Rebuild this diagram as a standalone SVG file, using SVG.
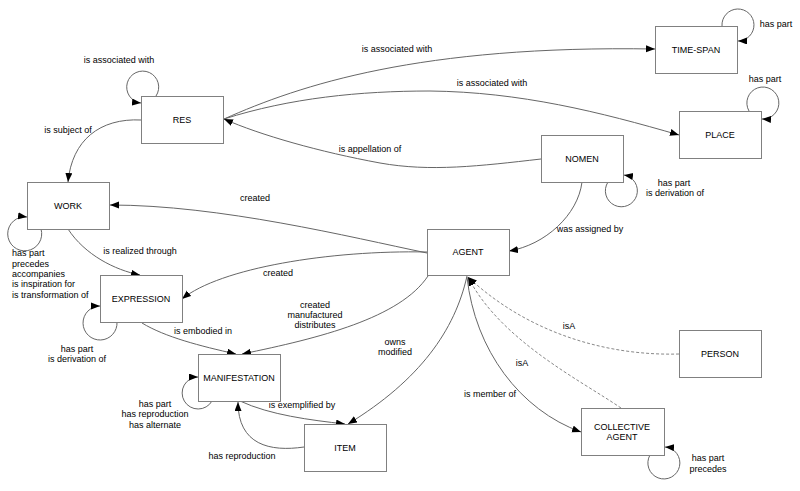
<svg xmlns="http://www.w3.org/2000/svg" width="800" height="491" viewBox="0 0 800 491">
<style>
.n rect{fill:#fff;stroke:#808080;stroke-width:1}
text{font-family:"Liberation Sans",Arial,sans-serif;font-size:9px;fill:#000}
.n text,.c text.m{text-anchor:middle}
.c path{fill:none;stroke:#666;stroke-width:1}
.c path.d{stroke:#888;stroke-dasharray:3,2}
</style>
<defs>
<marker id="a" markerUnits="userSpaceOnUse" markerWidth="10" markerHeight="8" refX="9" refY="3.5" orient="auto"><path d="M0,0 L9,3.5 L0,7 z" fill="#000"/></marker>
</defs>
<rect width="800" height="491" fill="#fff"/>
<g class="c" id="connectors">
<path d="M156,96 A16,16 0 1 0 141,103" marker-end="url(#a)"/>
<path d="M141,120 C100,118 72,140 68,182" marker-end="url(#a)"/>
<path d="M224,119 C300,85 420,45 655,49" marker-end="url(#a)"/>
<path d="M224,119 C290,98 360,91 430,91 C520,92 600,112 679,135" marker-end="url(#a)"/>
<path d="M541,159 C480,166 430,172 380,163 C320,152 260,135 224,119" marker-end="url(#a)"/>
<path d="M722,26 A16,16 0 1 1 738,41" marker-end="url(#a)"/>
<path d="M749,111 A16,16 0 1 1 762,119" marker-end="url(#a)"/>
<path d="M608,182 A16,16 0 1 0 624,175" marker-end="url(#a)"/>
<path d="M582,182 C578,215 545,245 509,251" marker-end="url(#a)"/>
<path d="M427,253 C350,237 220,205 110,205" marker-end="url(#a)"/>
<path d="M427,252 C330,250 220,268 182,299" marker-end="url(#a)"/>
<path d="M428,276 C400,318 320,338 242,354" marker-end="url(#a)"/>
<path d="M142,323 C165,337 200,346 236,354" marker-end="url(#a)"/>
<path d="M68,229 C85,255 115,270 140,275" marker-end="url(#a)"/>
<path d="M41,229 A17,17 0 1 1 27,217" marker-end="url(#a)"/>
<path d="M117,322 A17,17 0 1 1 100,306" marker-end="url(#a)"/>
<path d="M212,401 A16,16 0 1 1 198,377" marker-end="url(#a)"/>
<path d="M240,401 C270,415 310,420 345,424" marker-end="url(#a)"/>
<path d="M304,447 C270,452 238,445 238,402" marker-end="url(#a)"/>
<path d="M467,276 C455,330 420,380 348,424" marker-end="url(#a)"/>
<path d="M467,277 C475,350 520,410 581,432" marker-end="url(#a)"/>
<path class="d" d="M679,354 C610,356 530,335 468,277" marker-end="url(#a)"/>
<path class="d" d="M621,408 C580,380 500,340 468,277" marker-end="url(#a)"/>
<path d="M650,455 A16,16 0 1 0 665,447" marker-end="url(#a)"/>
<text class="m" x="119" y="63">is associated with</text>
<text class="m" x="68" y="133">is subject of</text>
<text class="m" x="397" y="52">is associated with</text>
<text class="m" x="492" y="86">is associated with</text>
<text class="m" x="370" y="152">is appellation of</text>
<text class="m" x="776" y="27">has part</text>
<text class="m" x="765" y="82">has part</text>
<text class="m" x="674" y="186">has part</text>
<text class="m" x="675" y="196">is derivation of</text>
<text class="m" x="590" y="232">was assigned by</text>
<text class="m" x="255" y="201">created</text>
<text class="m" x="278" y="276">created</text>
<text class="m" x="315" y="308">created</text>
<text class="m" x="315" y="318">manufactured</text>
<text class="m" x="315" y="328">distributes</text>
<text class="m" x="140" y="254">is realized through</text>
<text x="12" y="256">has part</text>
<text x="12" y="267">precedes</text>
<text x="12" y="277">accompanies</text>
<text x="12" y="287">is inspiration for</text>
<text x="12" y="298">is transformation of</text>
<text class="m" x="77" y="352">has part</text>
<text class="m" x="77" y="362">is derivation of</text>
<text class="m" x="203" y="334">is embodied in</text>
<text class="m" x="155" y="407">has part</text>
<text class="m" x="155" y="417">has reproduction</text>
<text class="m" x="155" y="428">has alternate</text>
<text class="m" x="302" y="408">is exemplified by</text>
<text class="m" x="242" y="459">has reproduction</text>
<text class="m" x="395" y="345">owns</text>
<text class="m" x="395" y="355">modified</text>
<text class="m" x="569" y="329">isA</text>
<text class="m" x="522" y="366">isA</text>
<text class="m" x="490" y="397">is member of</text>
<text class="m" x="708" y="461">has part</text>
<text class="m" x="708" y="472">precedes</text>
</g>
<g class="n" id="res"><rect x="141.5" y="96.5" width="82" height="47"/><text x="182" y="123">RES</text></g>
<g class="n" id="work"><rect x="27.5" y="182.5" width="82" height="47"/><text x="68" y="209">WORK</text></g>
<g class="n" id="timespan"><rect x="655.5" y="26.5" width="82" height="47"/><text x="696" y="53">TIME-SPAN</text></g>
<g class="n" id="place"><rect x="679.5" y="111.5" width="82" height="47"/><text x="720" y="138">PLACE</text></g>
<g class="n" id="nomen"><rect x="541.5" y="135.5" width="82" height="47"/><text x="582" y="162">NOMEN</text></g>
<g class="n" id="agent"><rect x="427.5" y="229.5" width="82" height="46"/><text x="468" y="255">AGENT</text></g>
<g class="n" id="expression"><rect x="100.5" y="275.5" width="82" height="47"/><text x="141" y="302">EXPRESSION</text></g>
<g class="n" id="manifestation"><rect x="198.5" y="354.5" width="82" height="47"/><text x="239" y="381">MANIFESTATION</text></g>
<g class="n" id="item"><rect x="304.5" y="424.5" width="82" height="47"/><text x="345" y="451">ITEM</text></g>
<g class="n" id="person"><rect x="679.5" y="330.5" width="82" height="47"/><text x="720" y="357">PERSON</text></g>
<g class="n" id="collectiveagent"><rect x="581.5" y="408.5" width="83" height="47"/><text x="622" y="430">COLLECTIVE</text><text x="622" y="440">AGENT</text></g>
</svg>
